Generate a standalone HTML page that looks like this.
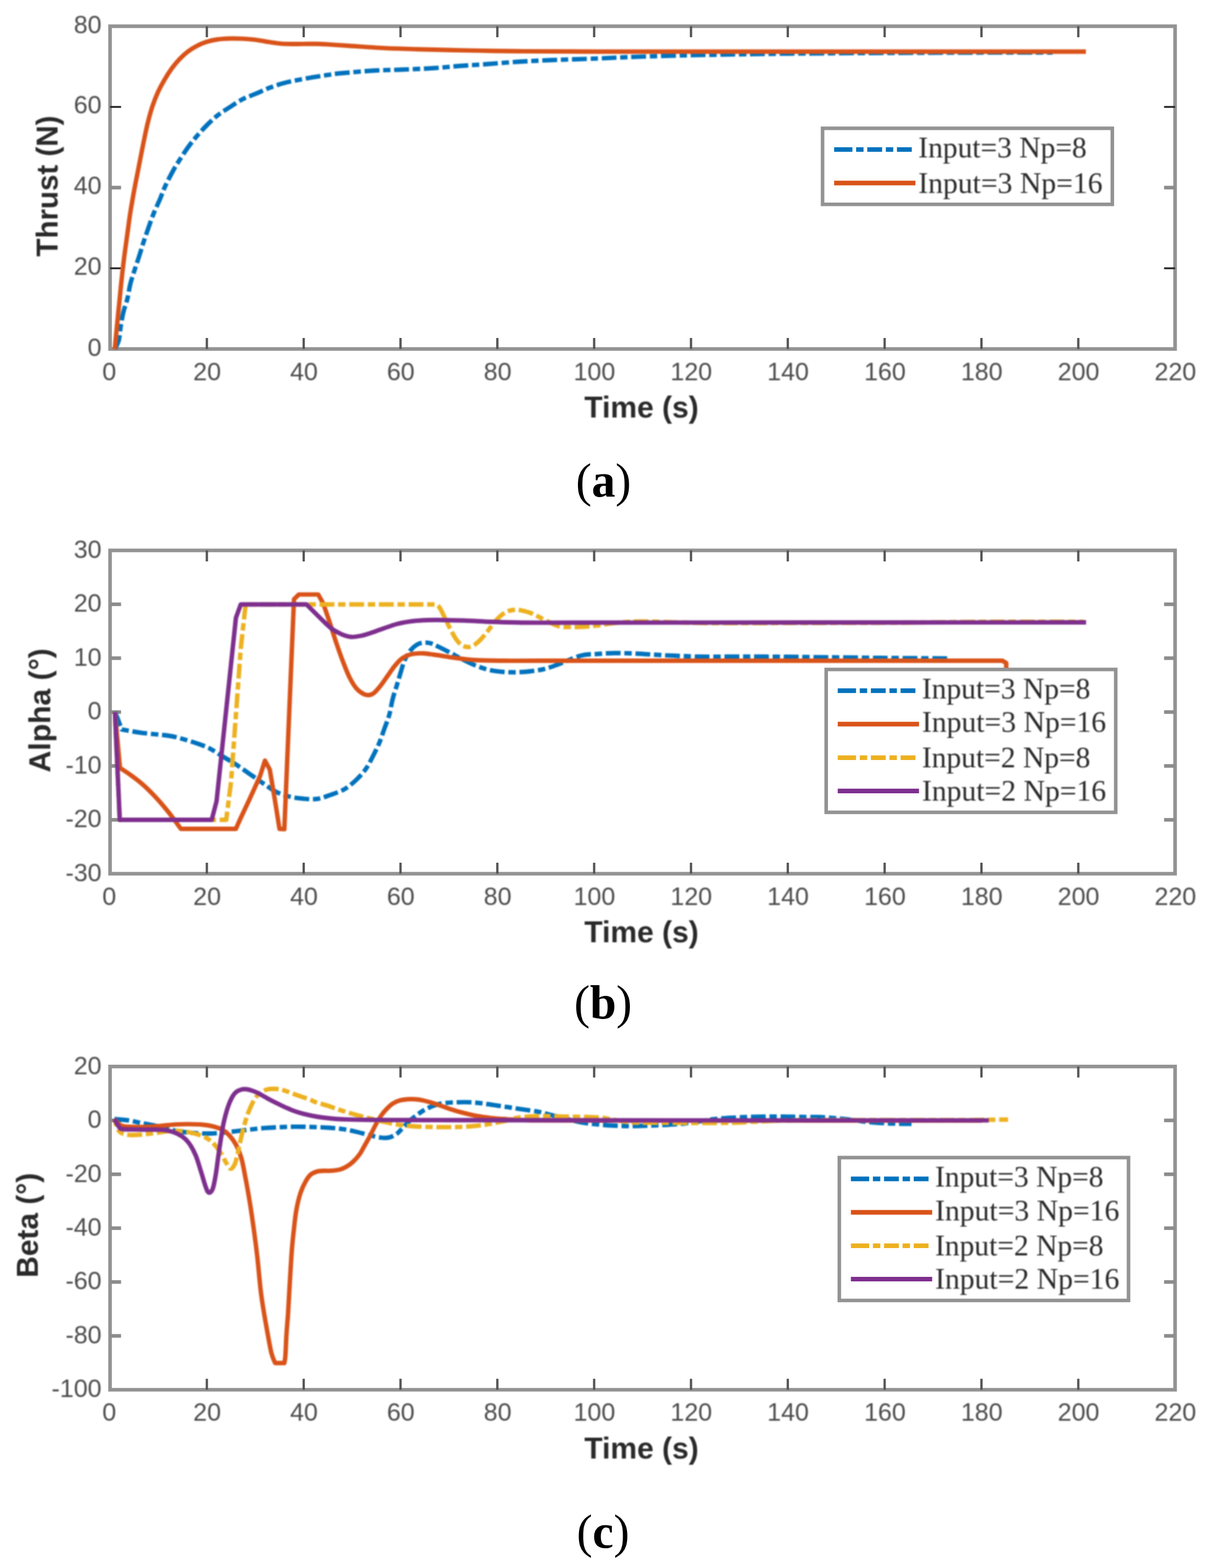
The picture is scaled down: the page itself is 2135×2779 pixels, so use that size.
<!DOCTYPE html>
<html lang="en">
<head>
<meta charset="utf-8">
<title>Thrust, Alpha and Beta responses</title>
<style>
html,body{margin:0;padding:0;background:#fff;}
body{width:2135px;height:2779px;}
svg{display:block;}
.tk text{font-family:"Liberation Sans",sans-serif;font-size:44.3px;fill:#4d4d4d;}
.lb{font-family:"Liberation Sans",sans-serif;font-size:53.3px;font-weight:bold;fill:#2a2a2a;}
.lg{font-family:"Liberation Serif",serif;font-size:52px;fill:#2b2b2b;}
.cp{font-family:"Liberation Serif","DejaVu Serif",serif;font-size:84px;fill:#000;}
.cb{font-weight:bold;}
</style>
</head>
<body>
<svg width="2135" height="2779" viewBox="0 0 2135 2779">
<defs><filter id="soft" x="0" y="0" width="100%" height="100%" filterUnits="userSpaceOnUse" color-interpolation-filters="sRGB"><feGaussianBlur stdDeviation="0.9"/></filter></defs>
<rect width="2135" height="2779" fill="#fff"/>
<g>
<rect x="195.0" y="46.5" width="1887.0" height="572.0" fill="none" stroke="#939393" stroke-width="6.4"/>
<g stroke="#555" stroke-width="4.1">
<line x1="366.5" y1="46.5" x2="366.5" y2="66.0"/>
<line x1="366.5" y1="618.5" x2="366.5" y2="599.0"/>
<line x1="538.1" y1="46.5" x2="538.1" y2="66.0"/>
<line x1="538.1" y1="618.5" x2="538.1" y2="599.0"/>
<line x1="709.6" y1="46.5" x2="709.6" y2="66.0"/>
<line x1="709.6" y1="618.5" x2="709.6" y2="599.0"/>
<line x1="881.2" y1="46.5" x2="881.2" y2="66.0"/>
<line x1="881.2" y1="618.5" x2="881.2" y2="599.0"/>
<line x1="1052.7" y1="46.5" x2="1052.7" y2="66.0"/>
<line x1="1052.7" y1="618.5" x2="1052.7" y2="599.0"/>
<line x1="1224.3" y1="46.5" x2="1224.3" y2="66.0"/>
<line x1="1224.3" y1="618.5" x2="1224.3" y2="599.0"/>
<line x1="1395.8" y1="46.5" x2="1395.8" y2="66.0"/>
<line x1="1395.8" y1="618.5" x2="1395.8" y2="599.0"/>
<line x1="1567.4" y1="46.5" x2="1567.4" y2="66.0"/>
<line x1="1567.4" y1="618.5" x2="1567.4" y2="599.0"/>
<line x1="1738.9" y1="46.5" x2="1738.9" y2="66.0"/>
<line x1="1738.9" y1="618.5" x2="1738.9" y2="599.0"/>
<line x1="1910.5" y1="46.5" x2="1910.5" y2="66.0"/>
<line x1="1910.5" y1="618.5" x2="1910.5" y2="599.0"/>
</g>
<line x1="195.0" y1="475.5" x2="214.5" y2="475.5" stroke="#2b2b2b" stroke-width="3.4"/>
<line x1="2082.0" y1="475.5" x2="2062.5" y2="475.5" stroke="#2b2b2b" stroke-width="3.4"/>
<line x1="195.0" y1="332.5" x2="214.5" y2="332.5" stroke="#8c8c8c" stroke-width="6.4"/>
<line x1="2082.0" y1="332.5" x2="2062.5" y2="332.5" stroke="#8c8c8c" stroke-width="6.4"/>
<line x1="195.0" y1="189.5" x2="214.5" y2="189.5" stroke="#2b2b2b" stroke-width="3.4"/>
<line x1="2082.0" y1="189.5" x2="2062.5" y2="189.5" stroke="#2b2b2b" stroke-width="3.4"/>
<g filter="url(#soft)">
<path d="M203.6 618.5C204.8 615.9 208.8 609.6 210.5 603.0C212.2 596.4 212.5 587.3 213.8 579.0C215.2 570.7 216.6 561.5 218.6 553.3C220.6 545.0 223.6 537.9 225.7 529.5C227.8 521.1 228.8 511.6 231.0 502.9C233.2 494.1 236.3 485.4 239.0 477.0C241.7 468.6 244.5 460.6 247.1 452.4C249.7 444.2 252.1 435.9 254.8 427.6C257.5 419.4 260.4 411.2 263.3 402.9C266.2 394.6 269.1 386.3 272.4 378.0C275.7 369.7 279.8 361.5 283.3 353.3C286.8 345.1 289.2 337.5 293.3 328.6C297.4 319.7 303.9 307.6 308.1 300.0C312.3 292.4 314.5 289.3 318.6 282.9C322.7 276.5 327.9 268.3 332.9 261.4C337.9 254.5 342.9 248.1 348.6 241.4C354.3 234.7 360.8 227.6 367.0 221.4C373.2 215.2 379.0 209.5 385.7 204.3C392.4 199.1 399.6 194.8 407.0 190.0C414.4 185.2 422.1 179.8 430.0 175.7C437.9 171.6 446.4 169.1 454.3 165.7C462.2 162.3 469.4 158.6 477.6 155.5C485.9 152.4 495.1 149.3 503.8 147.0C512.5 144.7 521.3 143.1 530.0 141.4C538.7 139.7 547.7 138.1 556.0 136.7C564.3 135.3 571.9 134.1 580.0 132.9C588.1 131.8 590.6 131.1 604.6 129.8C618.6 128.5 646.6 126.0 664.0 125.0C681.4 124.0 691.5 124.2 708.8 123.5C726.1 122.8 750.6 121.9 768.0 120.8C785.4 119.7 798.1 118.1 813.0 117.0C827.9 115.9 840.3 115.2 857.6 114.0C874.9 112.8 897.1 110.8 917.0 109.5C936.9 108.2 952.9 107.5 976.7 106.5C1000.5 105.5 1034.6 104.6 1060.0 103.6C1085.4 102.6 1102.6 101.5 1129.0 100.6C1155.4 99.7 1188.8 98.7 1218.6 98.0C1248.4 97.3 1278.3 96.8 1308.0 96.3C1337.7 95.8 1358.3 95.4 1397.0 95.0C1435.7 94.6 1489.5 94.3 1540.0 94.0C1590.5 93.7 1645.8 93.5 1700.0 93.3C1754.2 93.1 1837.5 93.0 1865.0 93.0" fill="none" stroke="#0072BD" stroke-width="7.9" stroke-linejoin="round" stroke-dasharray="26.3 6.6 13.1 6.6"/>
<path d="M203.3 619.0C204.0 611.5 206.2 588.1 207.6 574.3C208.9 560.5 210.1 548.7 211.4 536.0C212.7 523.3 213.8 510.7 215.2 498.0C216.5 485.3 217.8 473.9 219.5 460.0C221.2 446.1 223.8 428.3 225.7 414.3C227.6 400.3 229.0 388.9 231.0 376.2C233.0 363.5 235.3 350.7 237.6 338.0C239.9 325.3 242.9 310.6 245.0 300.0C247.1 289.4 248.2 283.4 250.0 274.3C251.8 265.2 253.7 255.2 255.7 245.7C257.7 236.1 259.6 226.5 262.0 217.0C264.4 207.5 267.0 197.6 270.0 188.6C273.0 179.6 276.4 170.8 280.0 162.9C283.6 155.0 287.3 148.3 291.4 141.4C295.4 134.5 299.8 127.6 304.3 121.4C308.8 115.2 313.8 109.3 318.6 104.3C323.4 99.3 327.9 95.2 332.9 91.4C337.9 87.6 343.1 84.2 348.6 81.4C354.1 78.6 359.8 76.2 365.7 74.3C371.6 72.4 377.1 71.0 384.3 70.0C391.5 69.0 401.0 68.5 408.6 68.3C416.2 68.1 422.9 68.3 430.0 68.6C437.1 68.9 444.6 69.5 451.4 70.3C458.1 71.1 464.1 72.5 470.5 73.5C476.9 74.5 483.1 75.7 489.5 76.4C495.9 77.1 500.7 77.7 508.6 77.9C516.5 78.2 528.4 77.9 537.0 77.9C545.6 77.9 552.8 77.6 560.0 77.7C567.2 77.8 570.1 78.0 580.0 78.6C589.9 79.2 603.0 80.2 619.5 81.3C636.0 82.4 659.1 84.1 679.0 85.1C698.9 86.1 718.8 86.6 738.6 87.2C758.4 87.8 778.2 88.2 798.0 88.7C817.8 89.2 837.8 89.6 857.6 89.9C877.4 90.2 883.3 90.5 917.0 90.8C950.7 91.1 979.5 91.4 1060.0 91.5C1140.5 91.6 1256.0 91.5 1400.0 91.5C1544.0 91.5 1836.7 91.5 1924.0 91.5" fill="none" stroke="#D95319" stroke-width="7.9" stroke-linejoin="round"/>
</g>
<g class="tk" filter="url(#soft)">
<text x="180" y="630.8" text-anchor="end">0</text>
<text x="180" y="486.8" text-anchor="end">20</text>
<text x="180" y="343.8" text-anchor="end">40</text>
<text x="180" y="200.8" text-anchor="end">60</text>
<text x="180" y="59.3" text-anchor="end">80</text>
<text x="193.5" y="673.5" text-anchor="middle">0</text>
<text x="367.0" y="673.5" text-anchor="middle">20</text>
<text x="538.6" y="673.5" text-anchor="middle">40</text>
<text x="710.1" y="673.5" text-anchor="middle">60</text>
<text x="881.7" y="673.5" text-anchor="middle">80</text>
<text x="1053.2" y="673.5" text-anchor="middle">100</text>
<text x="1224.8" y="673.5" text-anchor="middle">120</text>
<text x="1396.3" y="673.5" text-anchor="middle">140</text>
<text x="1567.9" y="673.5" text-anchor="middle">160</text>
<text x="1739.4" y="673.5" text-anchor="middle">180</text>
<text x="1911.0" y="673.5" text-anchor="middle">200</text>
<text x="2082.5" y="673.5" text-anchor="middle">220</text>
</g>
<g filter="url(#soft)"><text class="lb" x="1136.6" y="740.0" text-anchor="middle" textLength="202.5" lengthAdjust="spacingAndGlyphs">Time (s)</text></g>
<g filter="url(#soft)"><text class="lb" transform="translate(102.0 329.8) rotate(-90)" text-anchor="middle" textLength="250.0" lengthAdjust="spacingAndGlyphs">Thrust (N)</text></g>
<rect x="1457.4" y="227.4" width="513.4" height="134.8" fill="#fff" stroke="#939393" stroke-width="6.3"/>
<path d="M1477.9 265.0 H1615.5" stroke="#0072BD" stroke-width="8.2" stroke-dasharray="32.4 6.6 13.1 6.6 26.3 6.6 13.1 6.6 26.3 99" fill="none"/>
<text class="lg" filter="url(#soft)" x="1627.0" y="279.0" textLength="298.5" lengthAdjust="spacingAndGlyphs">Input=3 Np=8</text>
<path d="M1477.9 324.3 H1621.9" stroke="#D95319" stroke-width="8.2" fill="none"/>
<text class="lg" filter="url(#soft)" x="1627.0" y="341.6" textLength="326.5" lengthAdjust="spacingAndGlyphs">Input=3 Np=16</text>
</g>
<text class="cp" x="1069.3" y="880.0" text-anchor="middle">(<tspan class="cb">a</tspan>)</text>
<g>
<rect x="195.0" y="975.5" width="1887.0" height="573.0" fill="none" stroke="#939393" stroke-width="6.4"/>
<g stroke="#555" stroke-width="4.1">
<line x1="366.5" y1="975.5" x2="366.5" y2="995.0"/>
<line x1="366.5" y1="1548.5" x2="366.5" y2="1529.0"/>
<line x1="538.1" y1="975.5" x2="538.1" y2="995.0"/>
<line x1="538.1" y1="1548.5" x2="538.1" y2="1529.0"/>
<line x1="709.6" y1="975.5" x2="709.6" y2="995.0"/>
<line x1="709.6" y1="1548.5" x2="709.6" y2="1529.0"/>
<line x1="881.2" y1="975.5" x2="881.2" y2="995.0"/>
<line x1="881.2" y1="1548.5" x2="881.2" y2="1529.0"/>
<line x1="1052.7" y1="975.5" x2="1052.7" y2="995.0"/>
<line x1="1052.7" y1="1548.5" x2="1052.7" y2="1529.0"/>
<line x1="1224.3" y1="975.5" x2="1224.3" y2="995.0"/>
<line x1="1224.3" y1="1548.5" x2="1224.3" y2="1529.0"/>
<line x1="1395.8" y1="975.5" x2="1395.8" y2="995.0"/>
<line x1="1395.8" y1="1548.5" x2="1395.8" y2="1529.0"/>
<line x1="1567.4" y1="975.5" x2="1567.4" y2="995.0"/>
<line x1="1567.4" y1="1548.5" x2="1567.4" y2="1529.0"/>
<line x1="1738.9" y1="975.5" x2="1738.9" y2="995.0"/>
<line x1="1738.9" y1="1548.5" x2="1738.9" y2="1529.0"/>
<line x1="1910.5" y1="975.5" x2="1910.5" y2="995.0"/>
<line x1="1910.5" y1="1548.5" x2="1910.5" y2="1529.0"/>
</g>
<line x1="195.0" y1="1453.0" x2="214.5" y2="1453.0" stroke="#8c8c8c" stroke-width="6.4"/>
<line x1="2082.0" y1="1453.0" x2="2062.5" y2="1453.0" stroke="#8c8c8c" stroke-width="6.4"/>
<line x1="195.0" y1="1357.5" x2="214.5" y2="1357.5" stroke="#8c8c8c" stroke-width="6.4"/>
<line x1="2082.0" y1="1357.5" x2="2062.5" y2="1357.5" stroke="#8c8c8c" stroke-width="6.4"/>
<line x1="195.0" y1="1262.0" x2="214.5" y2="1262.0" stroke="#8c8c8c" stroke-width="6.4"/>
<line x1="2082.0" y1="1262.0" x2="2062.5" y2="1262.0" stroke="#8c8c8c" stroke-width="6.4"/>
<line x1="195.0" y1="1166.5" x2="214.5" y2="1166.5" stroke="#8c8c8c" stroke-width="6.4"/>
<line x1="2082.0" y1="1166.5" x2="2062.5" y2="1166.5" stroke="#8c8c8c" stroke-width="6.4"/>
<line x1="195.0" y1="1071.0" x2="214.5" y2="1071.0" stroke="#8c8c8c" stroke-width="6.4"/>
<line x1="2082.0" y1="1071.0" x2="2062.5" y2="1071.0" stroke="#8c8c8c" stroke-width="6.4"/>
<g filter="url(#soft)">
<path d="M203.6 1262.0C204.4 1264.0 206.6 1268.6 208.6 1273.8C210.6 1279.0 214.5 1289.7 215.7 1292.9C221.6 1293.9 237.5 1297.0 251.4 1298.8C265.3 1300.6 287.1 1302.2 299.0 1304.0C310.9 1305.8 314.9 1307.4 322.9 1309.5C330.8 1311.6 338.8 1314.0 346.7 1316.7C354.6 1319.5 362.6 1322.0 370.5 1326.0C378.4 1330.0 386.4 1335.7 394.3 1340.5C402.2 1345.3 410.1 1349.6 418.0 1354.8C425.9 1360.0 434.1 1365.9 442.0 1371.4C449.9 1376.9 457.8 1382.6 465.7 1388.0C473.6 1393.4 481.6 1399.6 489.5 1403.6C497.4 1407.6 505.4 1410.0 513.3 1412.0C521.2 1414.0 529.0 1414.8 537.0 1415.5C545.0 1416.2 553.2 1417.0 561.0 1416.0C568.8 1415.0 575.6 1412.4 583.8 1409.5C592.0 1406.6 602.1 1403.4 610.0 1398.8C617.9 1394.2 625.1 1388.0 631.4 1382.0C637.7 1376.0 643.2 1369.7 648.0 1363.0C652.8 1356.3 656.0 1349.4 660.0 1341.7C664.0 1334.0 668.4 1325.2 672.0 1316.7C675.6 1308.2 678.4 1298.8 681.4 1290.5C684.4 1282.2 687.4 1275.3 689.8 1266.7C692.2 1258.1 693.5 1247.6 695.7 1239.0C697.9 1230.4 700.6 1222.9 703.0 1215.0C705.4 1207.1 707.7 1198.9 710.0 1191.4C712.3 1183.9 714.2 1176.3 717.0 1170.0C719.8 1163.7 723.1 1157.9 726.7 1153.3C730.3 1148.7 734.6 1145.0 738.6 1142.6C742.6 1140.2 746.5 1139.4 750.5 1139.0C754.5 1138.6 758.4 1139.0 762.4 1140.0C766.4 1141.0 768.4 1142.2 774.3 1145.0C780.2 1147.8 790.0 1152.8 798.0 1157.0C806.0 1161.2 814.0 1166.0 822.0 1170.0C830.0 1174.0 837.8 1177.7 845.7 1180.7C853.6 1183.7 861.6 1186.2 869.5 1187.9C877.4 1189.6 885.4 1190.4 893.3 1191.0C901.2 1191.6 909.0 1191.7 917.0 1191.4C925.0 1191.2 933.2 1190.4 941.0 1189.5C948.8 1188.6 956.0 1187.7 963.8 1185.8C971.6 1183.9 976.7 1182.0 987.6 1178.0C998.5 1174.0 1017.1 1165.2 1029.0 1162.0C1040.9 1158.8 1049.0 1159.8 1059.0 1159.0C1069.0 1158.2 1078.9 1157.7 1088.8 1157.5C1098.7 1157.3 1108.7 1157.7 1118.6 1158.0C1128.5 1158.3 1138.1 1159.0 1148.0 1159.6C1157.9 1160.2 1168.0 1160.9 1178.0 1161.4C1188.0 1161.9 1198.1 1162.2 1208.0 1162.6C1217.9 1163.0 1222.8 1163.6 1237.6 1163.8C1252.4 1164.0 1277.2 1163.8 1297.0 1163.8C1316.8 1163.8 1332.9 1163.7 1356.7 1163.8C1380.5 1163.9 1406.1 1164.2 1440.0 1164.6C1473.9 1165.0 1519.4 1165.6 1560.0 1166.0C1600.6 1166.4 1662.8 1166.8 1683.4 1167.0" fill="none" stroke="#0072BD" stroke-width="7.9" stroke-linejoin="round" stroke-dasharray="26.3 6.6 13.1 6.6"/>
<path d="M203.6 1262.0L212.6 1361.0C215.8 1363.2 225.3 1369.2 232.0 1374.0C238.7 1378.8 245.3 1383.7 252.5 1390.0C259.7 1396.3 267.2 1403.7 275.0 1412.0C282.8 1420.3 291.4 1430.5 299.0 1440.0C306.6 1449.5 316.9 1464.2 320.5 1469.0L418.0 1469.0C419.4 1465.8 422.3 1458.8 426.6 1449.5C430.9 1440.2 438.0 1425.4 443.7 1413.0C449.4 1400.6 458.0 1381.3 460.9 1375.0L469.5 1348.0L478.0 1364.0L486.6 1415.0L495.2 1469.0L503.8 1469.5L512.3 1266.0L520.9 1062.0L529.5 1053.6L563.8 1053.6L572.4 1069.0C574.3 1074.5 579.9 1090.3 583.8 1102.0C587.7 1113.7 591.7 1127.3 595.7 1139.0C599.7 1150.7 603.6 1162.1 607.6 1172.4C611.6 1182.7 615.5 1193.1 619.5 1201.0C623.5 1208.9 627.4 1215.2 631.4 1220.0C635.4 1224.8 639.7 1227.5 643.3 1229.5C646.9 1231.5 649.7 1232.2 652.9 1232.0C656.1 1231.8 658.8 1231.1 662.4 1228.3C666.0 1225.5 670.3 1220.2 674.3 1215.2C678.3 1210.2 682.2 1204.1 686.2 1198.6C690.2 1193.1 694.0 1187.0 698.0 1182.0C702.0 1177.0 706.0 1172.2 710.0 1168.8C714.0 1165.4 718.0 1163.4 722.0 1161.7C726.0 1160.0 729.0 1159.2 733.8 1158.6C738.5 1158.0 743.8 1157.6 750.5 1158.0C757.2 1158.4 766.4 1159.9 774.3 1161.0C782.2 1162.1 790.0 1163.6 798.0 1164.8C806.0 1166.0 814.0 1167.1 822.0 1168.0C830.0 1168.9 833.8 1169.5 845.7 1170.0C857.6 1170.5 874.2 1170.8 893.3 1171.0C912.3 1171.2 908.9 1171.0 960.0 1171.0C1011.1 1171.0 1110.0 1171.0 1200.0 1171.0C1290.0 1171.0 1404.0 1171.0 1500.0 1171.0C1596.0 1171.0 1730.0 1171.0 1776.0 1171.0L1782.8 1175.0L1782.8 1190.0" fill="none" stroke="#D95319" stroke-width="7.9" stroke-linejoin="round"/>
<path d="M203.6 1262.0L212.2 1453.0L400.8 1453.0L409.4 1385.0L418.0 1267.0L426.6 1149.0L435.2 1071.2L772.0 1071.2C773.2 1072.2 776.2 1072.9 779.0 1077.0C781.8 1081.1 785.4 1089.7 788.6 1096.0C791.8 1102.3 794.8 1109.0 798.0 1115.0C801.2 1121.0 804.4 1127.4 807.6 1132.0C810.8 1136.6 813.4 1140.1 817.0 1142.6C820.6 1145.0 825.0 1146.7 829.0 1146.7C833.0 1146.7 837.0 1145.0 841.0 1142.6C845.0 1140.1 848.9 1136.2 852.9 1132.0C856.9 1127.8 860.8 1122.6 864.8 1117.6C868.8 1112.6 872.7 1106.6 876.7 1102.0C880.7 1097.4 884.6 1093.2 888.6 1090.0C892.6 1086.8 896.5 1084.5 900.5 1083.0C904.5 1081.5 908.4 1080.9 912.4 1080.7C916.4 1080.5 919.5 1081.0 924.3 1082.0C929.1 1083.0 935.4 1084.5 941.0 1086.7C946.6 1088.9 952.1 1092.1 957.9 1095.0C963.7 1097.9 970.2 1101.5 975.7 1104.0C981.2 1106.5 984.7 1108.8 990.6 1110.0C996.5 1111.2 1003.6 1111.3 1011.0 1111.4C1018.4 1111.5 1027.0 1111.3 1035.0 1110.8C1043.0 1110.3 1049.8 1109.6 1059.0 1108.5C1068.2 1107.4 1078.2 1105.2 1090.0 1104.0C1101.8 1102.8 1115.0 1101.8 1130.0 1101.5C1145.0 1101.2 1160.0 1102.0 1180.0 1102.5C1200.0 1103.0 1221.7 1103.9 1250.0 1104.2C1278.3 1104.5 1316.7 1104.2 1350.0 1104.2C1383.3 1104.2 1408.3 1104.1 1450.0 1104.0C1491.7 1103.9 1550.0 1103.8 1600.0 1103.5C1650.0 1103.2 1696.7 1102.2 1750.0 1102.0C1803.3 1101.8 1891.7 1102.0 1920.0 1102.0" fill="none" stroke="#EDB120" stroke-width="7.9" stroke-linejoin="round" stroke-dasharray="26.3 6.6 13.1 6.6"/>
<path d="M203.6 1262.0L212.2 1453.0L375.1 1453.0L383.7 1420.0L418.0 1095.0L426.6 1071.2L543.0 1071.2L573.0 1101.0C575.5 1103.2 583.5 1111.1 588.0 1114.5C592.5 1117.9 596.3 1119.6 600.0 1121.5C603.7 1123.4 606.3 1124.8 610.0 1126.0C613.7 1127.2 617.2 1128.6 622.0 1128.8C626.8 1129.0 633.1 1128.1 638.6 1127.0C644.1 1125.9 648.3 1124.6 655.0 1122.4C661.7 1120.2 671.0 1116.7 679.0 1114.0C687.0 1111.3 695.0 1108.1 703.0 1106.0C711.0 1103.9 718.8 1102.5 726.7 1101.4C734.6 1100.3 742.6 1099.7 750.5 1099.3C758.4 1098.9 762.4 1098.7 774.3 1098.8C786.2 1098.9 806.1 1099.3 822.0 1099.8C837.9 1100.3 853.7 1101.4 869.5 1102.0C885.3 1102.6 901.9 1103.0 917.0 1103.3C932.1 1103.6 912.8 1103.6 960.0 1103.6C1007.2 1103.6 1093.3 1103.5 1200.0 1103.4C1306.7 1103.3 1479.3 1103.3 1600.0 1103.2C1720.7 1103.1 1870.2 1103.0 1924.3 1103.0" fill="none" stroke="#7E2F8E" stroke-width="7.9" stroke-linejoin="round"/>
</g>
<g class="tk" filter="url(#soft)">
<text x="180" y="1561.8" text-anchor="end">-30</text>
<text x="180" y="1466.3" text-anchor="end">-20</text>
<text x="180" y="1370.8" text-anchor="end">-10</text>
<text x="180" y="1275.3" text-anchor="end">0</text>
<text x="180" y="1179.8" text-anchor="end">10</text>
<text x="180" y="1084.3" text-anchor="end">20</text>
<text x="180" y="988.8" text-anchor="end">30</text>
<text x="193.5" y="1603.5" text-anchor="middle">0</text>
<text x="367.0" y="1603.5" text-anchor="middle">20</text>
<text x="538.6" y="1603.5" text-anchor="middle">40</text>
<text x="710.1" y="1603.5" text-anchor="middle">60</text>
<text x="881.7" y="1603.5" text-anchor="middle">80</text>
<text x="1053.2" y="1603.5" text-anchor="middle">100</text>
<text x="1224.8" y="1603.5" text-anchor="middle">120</text>
<text x="1396.3" y="1603.5" text-anchor="middle">140</text>
<text x="1567.9" y="1603.5" text-anchor="middle">160</text>
<text x="1739.4" y="1603.5" text-anchor="middle">180</text>
<text x="1911.0" y="1603.5" text-anchor="middle">200</text>
<text x="2082.5" y="1603.5" text-anchor="middle">220</text>
</g>
<g filter="url(#soft)"><text class="lb" x="1136.6" y="1670.0" text-anchor="middle" textLength="202.5" lengthAdjust="spacingAndGlyphs">Time (s)</text></g>
<g filter="url(#soft)"><text class="lb" transform="translate(89.0 1259.0) rotate(-90)" text-anchor="middle" textLength="220.0" lengthAdjust="spacingAndGlyphs">Alpha (°)</text></g>
<rect x="1463.8" y="1186.5" width="513.0" height="253.2" fill="#fff" stroke="#939393" stroke-width="6.3"/>
<path d="M1484.3 1224.1 H1621.9" stroke="#0072BD" stroke-width="8.2" stroke-dasharray="32.4 6.6 13.1 6.6 26.3 6.6 13.1 6.6 26.3 99" fill="none"/>
<text class="lg" filter="url(#soft)" x="1633.4" y="1238.1" textLength="298.5" lengthAdjust="spacingAndGlyphs">Input=3 Np=8</text>
<path d="M1484.3 1283.3 H1628.3" stroke="#D95319" stroke-width="8.2" fill="none"/>
<text class="lg" filter="url(#soft)" x="1633.4" y="1297.3" textLength="326.5" lengthAdjust="spacingAndGlyphs">Input=3 Np=16</text>
<path d="M1484.3 1342.8 H1621.9" stroke="#EDB120" stroke-width="8.2" stroke-dasharray="32.4 6.6 13.1 6.6 26.3 6.6 13.1 6.6 26.3 99" fill="none"/>
<text class="lg" filter="url(#soft)" x="1633.4" y="1360.1" textLength="298.5" lengthAdjust="spacingAndGlyphs">Input=2 Np=8</text>
<path d="M1484.3 1401.9 H1628.3" stroke="#7E2F8E" stroke-width="8.2" fill="none"/>
<text class="lg" filter="url(#soft)" x="1633.4" y="1419.2" textLength="326.5" lengthAdjust="spacingAndGlyphs">Input=2 Np=16</text>
</g>
<text class="cp" x="1068.5" y="1805.4" text-anchor="middle">(<tspan class="cb">b</tspan>)</text>
<g>
<rect x="195.0" y="1890.2" width="1887.0" height="572.9" fill="none" stroke="#939393" stroke-width="6.4"/>
<g stroke="#555" stroke-width="4.1">
<line x1="366.5" y1="1890.2" x2="366.5" y2="1909.7"/>
<line x1="366.5" y1="2463.1" x2="366.5" y2="2443.6"/>
<line x1="538.1" y1="1890.2" x2="538.1" y2="1909.7"/>
<line x1="538.1" y1="2463.1" x2="538.1" y2="2443.6"/>
<line x1="709.6" y1="1890.2" x2="709.6" y2="1909.7"/>
<line x1="709.6" y1="2463.1" x2="709.6" y2="2443.6"/>
<line x1="881.2" y1="1890.2" x2="881.2" y2="1909.7"/>
<line x1="881.2" y1="2463.1" x2="881.2" y2="2443.6"/>
<line x1="1052.7" y1="1890.2" x2="1052.7" y2="1909.7"/>
<line x1="1052.7" y1="2463.1" x2="1052.7" y2="2443.6"/>
<line x1="1224.3" y1="1890.2" x2="1224.3" y2="1909.7"/>
<line x1="1224.3" y1="2463.1" x2="1224.3" y2="2443.6"/>
<line x1="1395.8" y1="1890.2" x2="1395.8" y2="1909.7"/>
<line x1="1395.8" y1="2463.1" x2="1395.8" y2="2443.6"/>
<line x1="1567.4" y1="1890.2" x2="1567.4" y2="1909.7"/>
<line x1="1567.4" y1="2463.1" x2="1567.4" y2="2443.6"/>
<line x1="1738.9" y1="1890.2" x2="1738.9" y2="1909.7"/>
<line x1="1738.9" y1="2463.1" x2="1738.9" y2="2443.6"/>
<line x1="1910.5" y1="1890.2" x2="1910.5" y2="1909.7"/>
<line x1="1910.5" y1="2463.1" x2="1910.5" y2="2443.6"/>
</g>
<line x1="195.0" y1="2367.6" x2="214.5" y2="2367.6" stroke="#8c8c8c" stroke-width="6.4"/>
<line x1="2082.0" y1="2367.6" x2="2062.5" y2="2367.6" stroke="#8c8c8c" stroke-width="6.4"/>
<line x1="195.0" y1="2272.1" x2="214.5" y2="2272.1" stroke="#8c8c8c" stroke-width="6.4"/>
<line x1="2082.0" y1="2272.1" x2="2062.5" y2="2272.1" stroke="#8c8c8c" stroke-width="6.4"/>
<line x1="195.0" y1="2176.7" x2="214.5" y2="2176.7" stroke="#8c8c8c" stroke-width="6.4"/>
<line x1="2082.0" y1="2176.7" x2="2062.5" y2="2176.7" stroke="#8c8c8c" stroke-width="6.4"/>
<line x1="195.0" y1="2081.2" x2="214.5" y2="2081.2" stroke="#8c8c8c" stroke-width="6.4"/>
<line x1="2082.0" y1="2081.2" x2="2062.5" y2="2081.2" stroke="#8c8c8c" stroke-width="6.4"/>
<line x1="195.0" y1="1985.7" x2="214.5" y2="1985.7" stroke="#8c8c8c" stroke-width="6.4"/>
<line x1="2082.0" y1="1985.7" x2="2062.5" y2="1985.7" stroke="#8c8c8c" stroke-width="6.4"/>
<g filter="url(#soft)">
<path d="M202.6 1983.3C206.8 1983.7 219.5 1984.5 227.6 1985.7C235.7 1986.9 243.5 1989.0 251.4 1990.5C259.3 1992.0 267.1 1993.2 275.0 1995.0C282.9 1996.8 291.0 1999.4 299.0 2001.2C307.0 2003.0 314.9 2004.8 322.9 2006.0C330.8 2007.2 338.8 2007.8 346.7 2008.3C354.6 2008.8 362.6 2009.1 370.5 2009.0C378.4 2008.9 386.4 2008.3 394.3 2007.6C402.2 2006.9 410.1 2005.7 418.0 2004.8C425.9 2003.9 434.1 2002.9 442.0 2002.0C449.9 2001.1 457.8 2000.2 465.7 1999.5C473.6 1998.8 481.6 1998.4 489.5 1998.0C497.4 1997.6 505.4 1997.2 513.3 1997.0C521.2 1996.8 529.2 1996.9 537.0 1997.0C544.8 1997.1 552.2 1997.3 560.0 1997.6C567.8 1997.9 575.9 1998.2 583.8 1998.8C591.7 1999.4 599.7 2000.0 607.6 2001.2C615.5 2002.4 623.5 2004.2 631.4 2006.0C639.3 2007.8 647.9 2010.3 655.0 2012.0C662.1 2013.7 668.7 2015.5 674.3 2016.2C679.9 2016.9 683.8 2017.3 688.6 2016.2C693.4 2015.1 698.6 2012.6 703.0 2009.5C707.4 2006.4 710.8 2001.6 714.8 1997.6C718.8 1993.6 722.7 1989.3 726.7 1985.7C730.7 1982.1 734.6 1979.2 738.6 1976.2C742.6 1973.2 746.5 1970.4 750.5 1968.0C754.5 1965.6 758.4 1963.7 762.4 1962.0C766.4 1960.3 769.9 1958.8 774.3 1957.6C778.7 1956.4 782.6 1955.5 788.6 1954.8C794.6 1954.1 802.5 1953.8 810.0 1953.6C817.5 1953.4 825.9 1953.2 833.8 1953.6C841.7 1954.0 849.7 1955.0 857.6 1956.0C865.5 1957.0 873.5 1958.3 881.4 1959.5C889.3 1960.7 897.3 1961.8 905.2 1963.0C913.1 1964.2 921.0 1965.5 929.0 1966.7C937.0 1967.9 946.1 1968.9 952.9 1970.2C959.7 1971.5 962.0 1972.5 969.8 1974.4C977.6 1976.3 989.6 1979.4 999.5 1981.8C1009.4 1984.2 1019.1 1987.2 1029.0 1989.0C1038.9 1990.8 1049.0 1991.9 1059.0 1992.9C1069.0 1993.9 1078.9 1994.5 1088.8 1995.0C1098.7 1995.5 1108.7 1995.8 1118.6 1995.8C1128.5 1995.8 1138.1 1995.3 1148.0 1995.0C1157.9 1994.7 1168.0 1994.3 1178.0 1993.8C1188.0 1993.2 1198.1 1992.7 1208.0 1991.7C1217.9 1990.7 1227.8 1989.2 1237.6 1987.8C1247.4 1986.4 1257.1 1984.4 1267.0 1983.3C1276.9 1982.2 1287.0 1981.6 1297.0 1981.0C1307.0 1980.4 1317.0 1979.8 1327.0 1979.5C1337.0 1979.2 1346.9 1979.0 1356.7 1978.9C1366.5 1978.8 1376.1 1978.8 1386.0 1978.9C1395.9 1979.0 1405.3 1979.3 1416.0 1979.5C1426.7 1979.7 1439.4 1979.4 1450.0 1979.8C1460.6 1980.2 1469.7 1981.0 1479.5 1981.8C1489.3 1982.6 1499.1 1983.6 1509.0 1984.8C1518.9 1986.0 1529.0 1987.7 1539.0 1988.7C1549.0 1989.7 1559.1 1990.3 1569.0 1990.8C1578.9 1991.3 1590.9 1991.5 1598.6 1991.7C1606.3 1991.9 1612.3 1991.7 1615.0 1991.7" fill="none" stroke="#0072BD" stroke-width="7.9" stroke-linejoin="round" stroke-dasharray="26.3 6.6 13.1 6.6"/>
<path d="M202.6 1983.3C204.4 1985.1 209.1 1991.7 213.3 1994.0C217.5 1996.3 219.3 1996.5 227.6 1997.0C235.9 1997.5 253.4 1997.3 263.3 1997.0C273.2 1996.7 279.1 1995.9 287.0 1995.2C294.9 1994.5 303.0 1993.4 311.0 1992.9C319.0 1992.4 326.9 1992.3 334.8 1992.4C342.7 1992.5 351.5 1992.6 358.6 1993.3C365.7 1994.0 371.7 1994.9 377.6 1996.4C383.6 1997.9 389.5 1999.8 394.3 2002.4C399.1 2005.0 402.2 2007.6 406.2 2012.0C410.1 2016.4 414.4 2021.9 418.0 2028.6C421.6 2035.3 424.8 2042.7 427.6 2052.4C430.4 2062.1 432.2 2073.5 434.8 2087.0C437.4 2100.5 440.5 2117.6 443.0 2133.3C445.5 2149.0 447.8 2165.1 450.0 2181.0C452.2 2196.9 454.0 2210.8 456.0 2228.6C458.0 2246.4 460.1 2271.8 462.0 2288.0C463.9 2304.2 465.6 2313.3 467.6 2326.0C469.7 2338.7 472.1 2352.2 474.3 2364.3C476.5 2376.4 478.8 2390.0 481.0 2398.6C483.2 2407.2 486.4 2412.8 487.5 2415.7L503.8 2415.7C504.1 2413.5 505.1 2411.0 505.7 2402.4C506.3 2393.8 506.8 2377.0 507.6 2364.3C508.4 2351.6 509.6 2340.7 510.5 2326.0C511.4 2311.3 512.2 2294.2 513.3 2276.0C514.4 2257.8 515.8 2232.5 517.0 2216.7C518.2 2200.9 519.2 2192.9 520.5 2181.0C521.8 2169.1 523.0 2156.1 525.0 2145.0C527.0 2133.9 529.6 2123.0 532.4 2114.3C535.2 2105.6 538.8 2098.6 542.0 2093.0C545.2 2087.4 547.4 2083.9 551.4 2081.0C555.4 2078.1 560.1 2076.5 565.7 2075.5C571.3 2074.5 578.8 2075.4 584.8 2075.0C590.8 2074.6 596.6 2074.2 601.4 2073.0C606.1 2071.8 609.4 2070.2 613.3 2068.0C617.2 2065.8 621.0 2063.2 625.0 2059.5C629.0 2055.8 633.5 2050.8 637.0 2046.0C640.5 2041.2 642.7 2036.3 645.7 2031.0C648.7 2025.7 651.8 2020.3 655.0 2014.3C658.2 2008.3 661.6 2001.0 664.8 1995.0C668.0 1989.0 671.1 1983.3 674.3 1978.6C677.5 1973.9 680.2 1970.5 683.8 1966.7C687.4 1962.9 691.7 1958.7 695.7 1956.0C699.7 1953.3 703.2 1951.8 707.6 1950.5C712.0 1949.2 717.3 1948.7 722.0 1948.3C726.7 1947.9 731.2 1947.9 736.0 1948.3C740.8 1948.7 745.3 1949.4 750.5 1950.5C755.7 1951.6 761.1 1953.2 767.0 1955.0C772.9 1956.8 779.7 1959.2 786.0 1961.4C792.3 1963.6 799.0 1966.0 805.0 1967.9C811.0 1969.8 815.2 1970.9 822.0 1972.6C828.8 1974.3 837.8 1976.5 845.7 1978.0C853.6 1979.5 861.6 1980.5 869.5 1981.4C877.4 1982.3 881.5 1982.6 893.3 1983.3C905.0 1984.0 905.5 1985.0 940.0 1985.5C974.5 1986.0 1006.7 1985.9 1100.0 1986.0C1193.3 1986.1 1393.3 1986.0 1500.0 1986.0C1606.7 1986.0 1700.0 1986.0 1740.0 1986.0" fill="none" stroke="#D95319" stroke-width="7.9" stroke-linejoin="round"/>
<path d="M202.6 1983.3C204.0 1986.9 206.8 2000.1 211.0 2004.8C215.2 2009.5 220.9 2010.4 227.6 2011.4C234.3 2012.4 243.5 2011.3 251.4 2010.7C259.3 2010.1 267.1 2009.0 275.0 2008.0C282.9 2007.0 291.0 2005.3 299.0 2004.8C307.0 2004.3 314.9 2004.0 322.9 2004.8C330.8 2005.6 339.6 2007.5 346.7 2009.5C353.8 2011.5 360.1 2013.5 365.7 2016.7C371.2 2019.9 375.6 2023.9 380.0 2028.6C384.4 2033.3 388.4 2039.4 392.0 2045.0C395.6 2050.6 398.6 2057.6 401.4 2062.0C404.2 2066.4 406.2 2071.1 408.6 2071.4C411.0 2071.7 413.7 2068.0 415.7 2064.0C417.7 2060.0 418.9 2053.9 420.5 2047.6C422.1 2041.3 423.4 2033.1 425.0 2026.0C426.6 2018.9 428.2 2011.9 430.0 2004.8C431.8 1997.7 434.0 1989.6 436.0 1983.3C438.0 1977.0 439.4 1972.7 442.0 1966.7C444.6 1960.8 448.2 1952.5 451.4 1947.6C454.6 1942.6 457.4 1939.8 461.0 1937.0C464.6 1934.2 468.6 1932.2 472.9 1931.0C477.2 1929.8 482.2 1929.6 487.0 1929.8C491.8 1930.0 495.1 1930.2 501.4 1932.0C507.7 1933.8 517.1 1937.7 525.0 1940.5C532.9 1943.3 543.2 1946.6 549.0 1948.8C554.8 1951.0 554.2 1951.6 560.0 1953.6C565.8 1955.6 575.9 1958.1 583.8 1960.7C591.7 1963.3 599.7 1966.5 607.6 1969.0C615.5 1971.5 623.5 1973.8 631.4 1976.0C639.3 1978.2 647.1 1980.0 655.0 1982.0C662.9 1984.0 671.0 1986.2 679.0 1988.0C687.0 1989.8 695.0 1991.6 703.0 1992.9C711.0 1994.2 718.8 1995.0 726.7 1995.7C734.6 1996.4 742.6 1996.7 750.5 1997.0C758.4 1997.3 766.4 1997.5 774.3 1997.6C782.2 1997.7 790.0 1997.7 798.0 1997.6C806.0 1997.5 814.0 1997.4 822.0 1997.0C830.0 1996.6 837.8 1996.1 845.7 1995.2C853.6 1994.3 861.6 1993.1 869.5 1991.7C877.4 1990.3 885.4 1988.8 893.3 1987.0C901.2 1985.2 909.0 1982.4 917.0 1981.0C925.0 1979.6 933.8 1979.1 941.0 1978.6C948.2 1978.1 950.2 1978.0 960.0 1978.0C969.8 1978.0 983.0 1978.5 999.5 1978.9C1016.0 1979.3 1044.1 1979.4 1059.0 1980.4C1073.9 1981.4 1078.9 1983.3 1088.8 1984.8C1098.7 1986.3 1103.7 1988.4 1118.6 1989.3C1133.5 1990.2 1158.2 1989.8 1178.0 1989.9C1197.8 1990.1 1217.8 1990.2 1237.6 1990.2C1257.4 1990.2 1279.6 1990.3 1297.0 1989.9C1314.4 1989.5 1324.6 1988.5 1341.8 1987.8C1359.0 1987.1 1373.6 1986.0 1400.0 1985.6C1426.4 1985.2 1450.0 1985.3 1500.0 1985.2C1550.0 1985.1 1658.0 1985.3 1700.0 1985.2C1742.0 1985.1 1737.7 1984.8 1752.0 1984.6C1766.3 1984.4 1780.3 1984.3 1786.0 1984.2" fill="none" stroke="#EDB120" stroke-width="7.9" stroke-linejoin="round" stroke-dasharray="26.3 6.6 13.1 6.6" stroke-dashoffset="13.3"/>
<path d="M202.6 1983.3C204.0 1985.7 208.4 1994.6 211.0 1997.6C213.6 2000.6 211.3 2000.5 218.0 2001.2C224.7 2001.9 239.9 2001.8 251.4 2002.0C262.9 2002.2 277.9 2001.7 287.0 2002.4C296.1 2003.1 300.0 2004.0 306.0 2006.0C312.0 2008.0 318.1 2011.0 322.9 2014.3C327.7 2017.6 330.8 2020.5 334.8 2026.0C338.8 2031.5 343.2 2039.3 346.7 2047.6C350.2 2055.9 353.2 2067.3 356.0 2076.0C358.8 2084.7 361.3 2094.0 363.3 2100.0C365.3 2106.0 366.4 2109.8 368.0 2112.0C369.6 2114.2 371.3 2114.2 372.9 2113.0C374.5 2111.8 376.0 2110.1 377.6 2104.8C379.2 2099.5 380.8 2090.5 382.4 2081.0C384.0 2071.5 385.4 2058.7 387.0 2047.6C388.6 2036.5 390.4 2024.2 392.0 2014.3C393.6 2004.4 394.7 1996.7 396.7 1988.0C398.7 1979.3 401.4 1969.2 403.8 1962.0C406.2 1954.8 408.6 1949.4 411.0 1945.0C413.4 1940.6 415.2 1938.0 418.0 1935.7C420.8 1933.4 424.4 1931.9 427.6 1931.0C430.8 1930.1 433.8 1930.2 437.0 1930.5C440.2 1930.8 443.1 1931.7 446.7 1932.9C450.3 1934.2 453.5 1935.3 458.6 1938.0C463.8 1940.7 471.2 1945.4 477.6 1948.8C484.0 1952.2 490.0 1955.1 496.7 1958.3C503.4 1961.5 511.3 1965.3 518.0 1967.9C524.7 1970.5 529.8 1972.0 537.0 1973.8C544.2 1975.6 553.2 1977.6 561.0 1979.0C568.8 1980.4 576.0 1981.2 583.8 1982.0C591.6 1982.8 595.7 1983.3 607.6 1983.8C619.5 1984.3 622.9 1984.5 655.0 1984.8C687.1 1985.0 709.2 1985.2 800.0 1985.3C890.8 1985.4 1083.3 1985.5 1200.0 1985.6C1316.7 1985.6 1408.0 1985.6 1500.0 1985.6C1592.0 1985.6 1709.8 1985.6 1751.8 1985.6" fill="none" stroke="#7E2F8E" stroke-width="7.9" stroke-linejoin="round"/>
</g>
<g class="tk" filter="url(#soft)">
<text x="180" y="2476.4" text-anchor="end">-100</text>
<text x="180" y="2380.9" text-anchor="end">-80</text>
<text x="180" y="2285.4" text-anchor="end">-60</text>
<text x="180" y="2190.0" text-anchor="end">-40</text>
<text x="180" y="2094.5" text-anchor="end">-20</text>
<text x="180" y="1999.0" text-anchor="end">0</text>
<text x="180" y="1903.5" text-anchor="end">20</text>
<text x="193.5" y="2518.1" text-anchor="middle">0</text>
<text x="367.0" y="2518.1" text-anchor="middle">20</text>
<text x="538.6" y="2518.1" text-anchor="middle">40</text>
<text x="710.1" y="2518.1" text-anchor="middle">60</text>
<text x="881.7" y="2518.1" text-anchor="middle">80</text>
<text x="1053.2" y="2518.1" text-anchor="middle">100</text>
<text x="1224.8" y="2518.1" text-anchor="middle">120</text>
<text x="1396.3" y="2518.1" text-anchor="middle">140</text>
<text x="1567.9" y="2518.1" text-anchor="middle">160</text>
<text x="1739.4" y="2518.1" text-anchor="middle">180</text>
<text x="1911.0" y="2518.1" text-anchor="middle">200</text>
<text x="2082.5" y="2518.1" text-anchor="middle">220</text>
</g>
<g filter="url(#soft)"><text class="lb" x="1136.6" y="2584.6" text-anchor="middle" textLength="202.5" lengthAdjust="spacingAndGlyphs">Time (s)</text></g>
<g filter="url(#soft)"><text class="lb" transform="translate(66.5 2171.6) rotate(-90)" text-anchor="middle" textLength="186.0" lengthAdjust="spacingAndGlyphs">Beta (°)</text></g>
<rect x="1487.1" y="2051.6" width="512.4" height="253.2" fill="#fff" stroke="#939393" stroke-width="6.3"/>
<path d="M1507.6 2089.3 H1645.2" stroke="#0072BD" stroke-width="8.2" stroke-dasharray="32.4 6.6 13.1 6.6 26.3 6.6 13.1 6.6 26.3 99" fill="none"/>
<text class="lg" filter="url(#soft)" x="1656.7" y="2103.3" textLength="298.5" lengthAdjust="spacingAndGlyphs">Input=3 Np=8</text>
<path d="M1507.6 2148.6 H1651.6" stroke="#D95319" stroke-width="8.2" fill="none"/>
<text class="lg" filter="url(#soft)" x="1656.7" y="2162.6" textLength="326.5" lengthAdjust="spacingAndGlyphs">Input=3 Np=16</text>
<path d="M1507.6 2207.9 H1645.2" stroke="#EDB120" stroke-width="8.2" stroke-dasharray="32.4 6.6 13.1 6.6 26.3 6.6 13.1 6.6 26.3 99" fill="none"/>
<text class="lg" filter="url(#soft)" x="1656.7" y="2225.2" textLength="298.5" lengthAdjust="spacingAndGlyphs">Input=2 Np=8</text>
<path d="M1507.6 2267.0 H1651.6" stroke="#7E2F8E" stroke-width="8.2" fill="none"/>
<text class="lg" filter="url(#soft)" x="1656.7" y="2284.3" textLength="326.5" lengthAdjust="spacingAndGlyphs">Input=2 Np=16</text>
</g>
<text class="cp" x="1068.5" y="2743.0" text-anchor="middle">(<tspan class="cb">c</tspan>)</text>
</svg>
</body>
</html>
